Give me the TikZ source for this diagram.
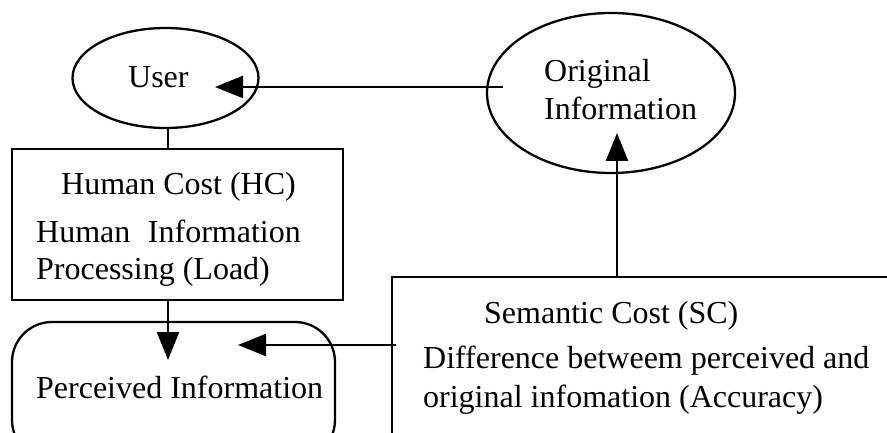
\documentclass[tikz,border=0pt]{standalone}
\usepackage{fontspec}
\setmainfont{Liberation Serif}
\usetikzlibrary{arrows.meta,shapes.geometric}
\begin{document}
\begin{tikzpicture}[x=1pt,y=-1pt,line width=2.3pt,
  every node/.style={font=\fontsize{32}{38}\selectfont, inner sep=0pt},
  txt/.style={anchor=base west},
  oval/.style={draw, ellipse},
  box/.style={draw, rectangle},
  roundbox/.style={draw, rectangle, rounded corners=40pt},
  arr/.style={-{Triangle[length=28pt,width=22pt]}}]
\useasboundingbox (0,0) rectangle (887,433);
\clip (0,0) rectangle (887,433);

% shapes
\node[oval, minimum width=186pt, minimum height=100pt] (user) at (165.5,78) {};
\node[oval, minimum width=248pt, minimum height=160pt] (orig) at (611,93) {};
\node[box, minimum width=331pt, minimum height=151pt] (hc) at (177.5,224.5) {};
\node[roundbox, minimum width=323pt, minimum height=138pt] (perc) at (173.5,391) {};
\node[box, minimum width=508pt, minimum height=183pt] (sc) at (646,368.5) {};

% labels
\node[txt] (usertxt) at (127,88) {User};
\node[txt] (origtxt1) at (543,82) {Original};
\node[txt] (origtxt2) at (543,120) {Information};
\node[txt] (hctxt1) at (60,195) {Human Cost (HC)};
\node[txt] (hctxt2) at (35,242) {Human\hspace{0.55em}Information};
\node[txt] (hctxt3) at (35,279) {Processing (Load)};
\node[txt] (perctxt) at (35,398) {Perceived Information};
\node[txt] (sctxt1) at (483,323) {Semantic Cost (SC)};
\node[txt] (sctxt2) at (422,368) {Difference betweem perceived and};
\node[txt] (sctxt3) at (422,407) {original infomation (Accuracy)};

% connector ends
\coordinate (origin1) at (503,87);
\coordinate (usertip) at (215,87);
\coordinate (perctip) at (168,360);
\coordinate (scleft) at (396,345);
\coordinate (perctip2) at (238,345);
\coordinate (sctop) at (617,277);
\coordinate (origtip) at (617,133);

% connectors
\draw[arr] (origin1) -- (usertip);
\draw (user.south -| perctip) -- (hc.north -| perctip);
\draw[arr] (hc.south -| perctip) -- (perctip);
\draw[arr] (scleft) -- (perctip2);
\draw[arr] (sctop) -- (origtip);
\end{tikzpicture}
\end{document}
